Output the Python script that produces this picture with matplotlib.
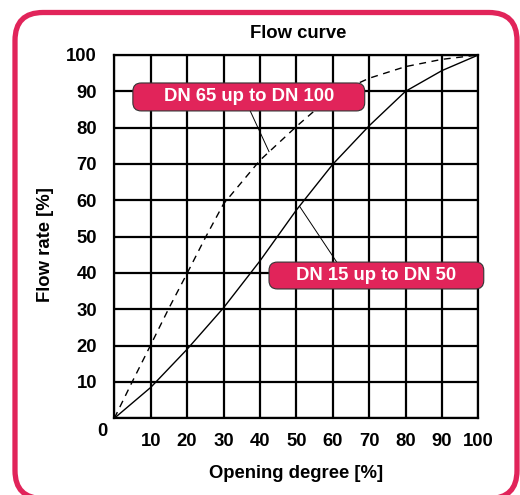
import matplotlib
matplotlib.use("Agg")
import matplotlib.pyplot as plt
from matplotlib.patches import FancyBboxPatch

# ---- data ----
ticks = [0, 10, 20, 30, 40, 50, 60, 70, 80, 90, 100]
tick_labels = ["", "10", "20", "30", "40", "50", "60", "70", "80", "90", "100"]

dn15_x = [0, 10, 20, 30, 40, 50, 60, 70, 80, 90, 100]
dn15_y = [0, 8.5, 19, 30.4, 43.3, 57.3, 69.9, 80.5, 90, 95.7, 100]

dn65_x = [0, 5, 10, 15, 20, 25, 30, 40, 50, 60, 70, 80, 90, 100]
dn65_y = [0, 10.2, 20.2, 30.3, 39.9, 49.7, 59, 71, 80.3, 89, 93.6, 96.8, 98.8, 100]

label_65 = "DN 65 up to DN 100"
label_15 = "DN 15 up to DN 50"
title = "Flow curve"
xlabel = "Opening degree [%]"
ylabel = "Flow rate [%]"

PINK = "#E1245A"
FONT = ["Liberation Sans", "DejaVu Sans"]
FS = 13.3
plt.rcParams["font.family"] = FONT
plt.rcParams["font.weight"] = "bold"

W, H = 520, 495
fig = plt.figure(figsize=(W / 100, H / 100), dpi=100)

# background overlay in pixel coordinates
bg = fig.add_axes([0, 0, 1, 1], zorder=0)
bg.set_xlim(0, W)
bg.set_ylim(H, 0)
bg.axis("off")
bg.add_patch(FancyBboxPatch((15, 12.5), 502, 486,
                            boxstyle="round,pad=0,rounding_size=28",
                            lw=3.8, ec=PINK, fc="white", clip_on=False))

bg.text(298, 34, title, ha="center", va="center", fontsize=FS, fontweight="bold")
bg.text(296, 473, xlabel, ha="center", va="center", fontsize=FS, fontweight="bold")
bg.text(45, 245, ylabel, ha="center", va="center", rotation=90, fontsize=FS, fontweight="bold")
bg.text(102, 431, "0", ha="center", va="center", fontsize=FS, fontweight="bold")

# main axes
x0, x1, y0, y1 = 114.3, 478.3, 55.0, 418.3
ax = fig.add_axes([x0 / W, 1 - y1 / H, (x1 - x0) / W, (y1 - y0) / H], zorder=1)
ax.patch.set_alpha(0)
ax.set_xlim(0, 100)
ax.set_ylim(0, 100)
ax.set_xticks(ticks)
ax.set_xticklabels(tick_labels, fontsize=FS, fontweight="bold")
ax.set_yticks(ticks)
ax.set_yticklabels(tick_labels, fontsize=FS, fontweight="bold")
ax.tick_params(length=0)
ax.tick_params(axis="x", pad=10.5)
ax.tick_params(axis="y", pad=12.5)
ax.grid(True, color="black", lw=1.6)
for s in ax.spines.values():
    s.set_linewidth(1.6)
    s.set_color("black")

ax.plot(dn15_x, dn15_y, color="black", lw=1.0, zorder=3)
ax.plot(dn65_x, dn65_y, color="black", lw=1.0, dashes=(5, 4), zorder=3)

# callout pointer lines
ax.plot([37.2, 42.5], [84.9, 73.4], color="black", lw=0.7, zorder=3)
ax.plot([51.0, 61.1], [58.2, 43.0], color="black", lw=0.7, zorder=3)

# callout boxes
def callout(xa, xb, ya, yb, text):
    ax.add_patch(FancyBboxPatch((xa, ya), xb - xa, yb - ya,
                                boxstyle="round,pad=0,rounding_size=2.3",
                                fc=PINK, ec="#333333", lw=0.8, zorder=4, clip_on=False))
    ax.text((xa + xb) / 2, (ya + yb) / 2, text, ha="center", va="center",
            color="white", fontsize=FS, fontweight="bold", zorder=5, clip_on=False)

callout(5.1, 68.8, 84.6, 92.3, label_65)
callout(42.5, 101.5, 35.6, 43.0, label_15)

fig.savefig("out.png", dpi=100)
